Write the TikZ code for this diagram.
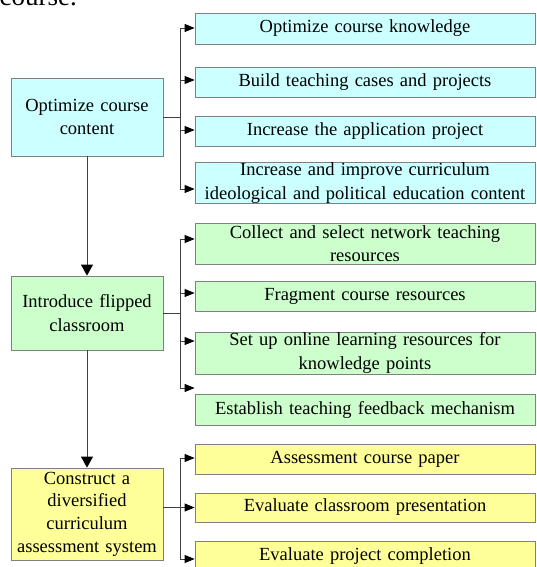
\documentclass[tikz,border=0pt]{standalone}
\usepackage{fontspec}
\setmainfont{Liberation Serif}
\usetikzlibrary{arrows.meta}

\definecolor{contentfill}{HTML}{CCFFFF}
\definecolor{flipfill}{HTML}{CCFFCC}
\definecolor{assessfill}{HTML}{FFFF99}

\begin{document}
\begin{tikzpicture}[x=1pt,y=-1pt,
	font=\fontsize{18.5}{23.5}\selectfont,
	box/.style={rectangle,draw=black!50,line width=0.8pt,inner sep=0pt,align=center},
	stage/.style={box,minimum width=152pt,text width=150pt},
	task/.style={box,minimum width=340pt,text width=338pt},
	contentbox/.style={fill=contentfill},
	flipbox/.style={fill=flipfill},
	assessbox/.style={fill=assessfill},
	link/.style={draw=black!75,line width=0.8pt},
	arr/.style={link,-{Triangle[length=10pt,width=8pt,color=black]}},
	downarr/.style={link,-{Triangle[length=11pt,width=12pt,color=black]}},
	]
	\useasboundingbox (0,0) rectangle (536,567);

	% tail of the line above
	\node[anchor=base east,inner sep=0pt,font=\fontsize{27}{30}\selectfont] (tail) at (77,6) {course.};

	% left column
	\node[stage,contentbox,minimum height=78pt] (content) at (87,117) {Optimize course\\content};
	\node[stage,flipbox,minimum height=74pt] (flip) at (87,313) {Introduce flipped\\classroom};
	\node[stage,assessbox,minimum height=92pt,font=\fontsize{18.5}{22.7}\selectfont] (assess) at (87,514) {Construct a\\diversified\\curriculum\\assessment system};

	% right column
	\node[task,contentbox,minimum height=31pt] (know) at (365,28.5) {Optimize course knowledge};
	\node[task,contentbox,minimum height=30pt] (cases) at (365,82) {Build teaching cases and projects};
	\node[task,contentbox,minimum height=30pt] (app) at (365,131) {Increase the application project};
	\node[task,contentbox,minimum height=40pt] (ideo) at (365,183) {Increase and improve curriculum\\ideological and political education content};

	\node[task,flipbox,minimum height=41pt] (collect) at (365,243.5) {Collect and select network teaching\\resources};
	\node[task,flipbox,minimum height=30pt] (frag) at (365,296) {Fragment course resources};
	\node[task,flipbox,minimum height=42pt] (online) at (365,353) {Set up online learning resources for\\knowledge points};
	\node[task,flipbox,minimum height=31pt] (feedback) at (365,409.5) {Establish teaching feedback mechanism};

	\node[task,assessbox,minimum height=30pt] (paper) at (365,459) {Assessment course paper};
	\node[task,assessbox,minimum height=29pt] (present) at (365,507.5) {Evaluate classroom presentation};
	\node[task,assessbox,minimum height=30pt] (project) at (365,556) {Evaluate project completion};

	% branch points
	\coordinate (cj) at (180,117);
	\coordinate (fj) at (180,313);
	\coordinate (aj) at (180,507.5);

	\draw[downarr] (content.south) -- (flip.north);
	\draw[downarr] (flip.south) -- (assess.north);

	\draw[link] (content.east) -- (cj);
	\draw[arr] (cj) |- ([yshift=0.5pt]know.west);
	\draw[arr] (cj) |- ([yshift=2pt]cases.west);
	\draw[arr] (cj) |- ([yshift=1pt]app.west);
	\draw[arr] (cj) |- ([yshift=-6pt]ideo.west);

	\draw[link] (flip.east) -- (fj);
	\draw[arr] (fj) |- ([yshift=4.5pt]collect.west);
	\draw[arr] (fj) |- ([yshift=3pt]frag.west);
	\draw[arr] (fj) |- ([yshift=12pt]online.west);
	\draw[arr] (fj) |- ([yshift=21.5pt]feedback.west);

	\draw[arr] (assess.east |- present.west) -- (present.west);
	\draw[arr] (aj) |- ([yshift=1pt]paper.west);
	\draw[arr] (aj) |- ([yshift=-3pt]project.west);
\end{tikzpicture}
\end{document}
